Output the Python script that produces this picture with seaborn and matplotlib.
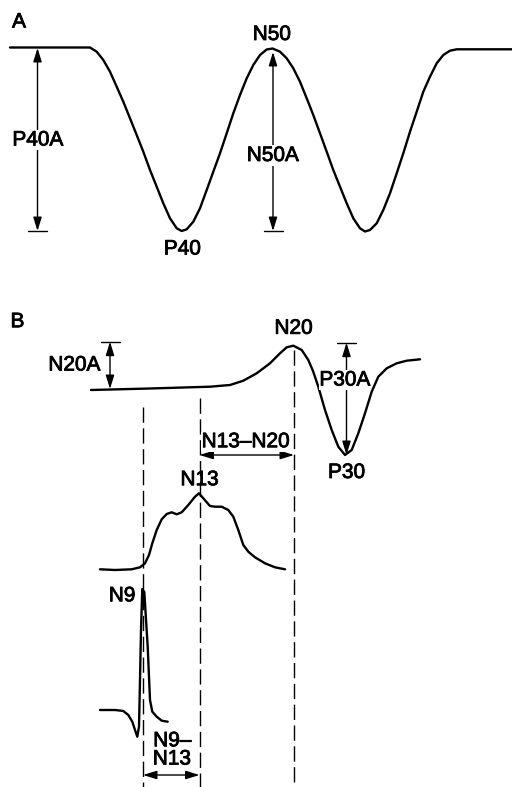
import matplotlib
matplotlib.use("Agg")
import matplotlib.pyplot as plt
import matplotlib.patheffects as pe
import seaborn as sns

# Canvas is laid out in pixel units of the reference figure (x right, y down)
W, H = 512, 787

# Panel A trace (P40 / N50 waveform)
a_x = [10, 90, 96.7, 103.3, 110, 116.7, 123.3, 130, 136.7, 143.3, 150, 156.7, 163.3, 170, 176.7,
       181.7, 186.7, 193.3, 200, 206.7, 213.3, 220, 226.7, 233.3, 240, 246.7, 253.3, 260, 266.7,
       272.5, 280, 286.7, 293.3, 300, 306.7, 313.3, 320, 326.7, 333.3, 340, 346.7, 353.3, 360,
       365, 370, 376.7, 383.3, 390, 396.7, 403.3, 410, 416.7, 423.3, 430, 436.7, 443.3, 450,
       456.7, 465, 512]
a_y = [47.5, 47.5, 51.7, 60, 71.7, 86.7, 101.7, 118.3, 135, 151.7, 170, 186.7, 203.3, 218.3, 228.3,
       231, 229.3, 221.7, 208.3, 190, 171.7, 153.3, 133.3, 113.3, 95, 78.3, 65, 55, 49.5,
       48.5, 51.7, 58.3, 68.3, 81.7, 98.3, 115, 133.3, 151.7, 170, 186.7, 203.3, 218.3, 228.3,
       231.5, 230, 223.3, 210, 193.3, 173.3, 153.3, 131.7, 111.7, 91.7, 76.7, 63.3, 55, 50.7,
       49.3, 49.3, 49.3]

# Panel B, cortical trace (N20 / P30)
n20_x = [91, 150, 190, 210, 230, 243.3, 256.7, 270, 280, 286.7, 293.3, 301.7, 308.3, 313,
         318.3, 325, 331.7, 338.3, 345, 351.7, 358.3, 365, 371.7, 378.3, 386.7, 396.7, 406.7, 420]
n20_y = [390, 388.5, 387.3, 386.7, 385, 380.7, 373.3, 363.3, 353.3, 347.3, 345.7, 350, 360, 371,
         386.7, 410, 430, 446.7, 455, 450, 433.3, 413.3, 391.7, 376.7, 368.3, 363.3, 360.7, 359.3]

# Panel B, N13 trace
n13_x = [100, 115, 131.7, 140, 145, 149, 152.3, 156.7, 161.7, 166.7, 171.7, 176.7, 181.7, 188.3,
         195, 199, 203.3, 210, 215, 221.7, 228.3, 233.3, 238.3, 243.3, 248.3, 255, 265, 275, 285]
n13_y = [569.3, 570, 569.3, 567.3, 563.3, 555, 543.3, 530, 519.3, 514, 512.3, 514.3, 512.3, 505,
         496.7, 493.3, 498.3, 506, 506.7, 506.7, 510, 516.7, 530, 545, 551.7, 557.3, 563.3, 567.3, 569.3]

# Panel B, N9 trace
n9_x = [100, 115, 123.3, 128.3, 132.3, 135, 137.3, 139, 140, 141, 142.3, 144.3, 147.7, 150, 152.3,
        156.7, 161.7, 167.7]
n9_y = [710, 710, 711, 715, 721.7, 730, 736.7, 726.7, 680, 630, 589, 592, 646.7, 700, 711.7,
        716.7, 720.7, 721.7]

# Latency markers (dashed verticals): x, top
lat_x = [143, 199.5, 294]
lat_top = [407, 398, 350]

# Amplitude arrows: x, y_from, y_to, y of the end tick
amp_x = [37.5, 273, 110, 346.5]
amp_y0 = [48, 52, 341.7, 342.7]
amp_y1 = [231, 231, 389, 455]
amp_tick_y = [231, 231, 341.7, 342.7]

# Interval arrows: y, x_from, x_to
int_y = [455, 775]
int_x0 = [199.5, 143]
int_x1 = [294, 199.5]

# Text labels
lab_txt = ["A", "N50", "P40", "B", "N20", "P30", "N13", "N9", "N9\u2013", "N13"]
lab_x = [19, 272, 182.5, 17.5, 293.7, 346.7, 199.7, 122.2, 172.5, 172]
lab_y = [22, 34.5, 249, 321.7, 328.3, 472.5, 479.7, 595.8, 740.8, 759]
box_txt = ["P40A", "N50A", "N20A", "P30A", "N13\u2013N20"]
box_x = [38, 273, 74.5, 345, 246]
box_y = [140, 155.5, 365, 380, 441.7]

sns.set_theme(style="white")
plt.rcParams["font.family"] = ["Liberation Sans", "DejaVu Sans"]

fig = plt.figure(figsize=(W / 100, H / 100), dpi=100)
ax = fig.add_axes([0, 0, 1, 1])
ax.set_xlim(0, W)
ax.set_ylim(H, 0)
ax.axis("off")

# Dashed latency lines
for x, top in zip(lat_x, lat_top):
    ax.plot([x, x], [top, H], color="black", lw=1.0, ls=(0, (11, 4)))

# Waveforms
for xs, ys in [(a_x, a_y), (n20_x, n20_y), (n13_x, n13_y), (n9_x, n9_y)]:
    sns.lineplot(x=xs, y=ys, sort=False, estimator=None, color="black", lw=1.7, ax=ax)

arrow = dict(arrowstyle="<|-|>,head_length=0.55,head_width=0.17", color="black",
             lw=1.0, shrinkA=0, shrinkB=0, mutation_scale=15)

for x, y0, y1, ty in zip(amp_x, amp_y0, amp_y1, amp_tick_y):
    ax.annotate("", xy=(x, y1), xytext=(x, y0), arrowprops=arrow)
    ax.plot([x - 9.5, x + 9.5], [ty, ty], color="black", lw=1.0)

for y, x0, x1 in zip(int_y, int_x0, int_x1):
    ax.annotate("", xy=(x1, y), xytext=(x0, y), arrowprops=arrow)

# slightly heavier glyphs, like the printed original
ink = [pe.withStroke(linewidth=0.6, foreground="black")]

for t, x, y in zip(lab_txt, lab_x, lab_y):
    ax.text(x, y, t, ha="center", va="center", fontsize=15, color="black", path_effects=ink)

for t, x, y in zip(box_txt, box_x, box_y):
    ax.text(x, y, t, ha="center", va="center", fontsize=15, color="black", path_effects=ink,
            bbox=dict(facecolor="white", edgecolor="none", pad=0.5))

fig.savefig("out.png", dpi=100, facecolor="white")
plt.close(fig)
